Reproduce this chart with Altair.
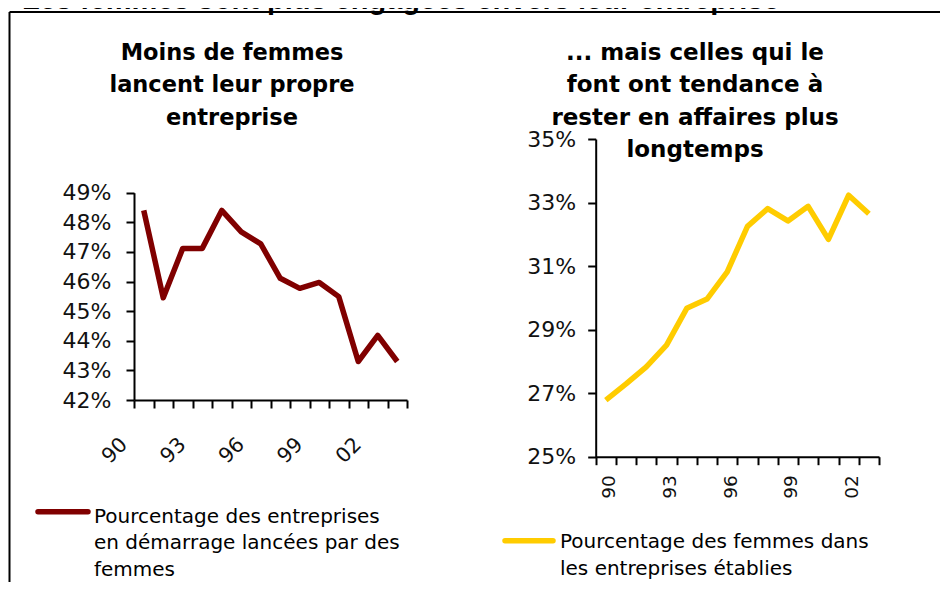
import json
import altair as alt
import pandas as pd

# ---------------- data ----------------
years = ["90", "91", "92", "93", "94", "95", "96", "97", "98", "99", "00", "01", "02", "03"]
startups_by_women = [48.4, 45.45, 47.12, 47.12, 48.4, 47.68, 47.27, 46.11, 45.77, 45.97, 45.49, 43.3, 44.18, 43.3]
women_in_established = [26.78, 27.29, 27.83, 28.51, 29.67, 29.96, 30.82, 32.25, 32.81, 32.42, 32.88, 31.84, 33.23, 32.65]
left_ticks = [42, 43, 44, 45, 46, 47, 48, 49]
right_ticks = [25, 27, 29, 31, 33, 35]
shown_year_labels = ["90", "93", "96", "99", "02"]

main_title = "Les femmes sont plus engagées envers leur entreprise"
left_title = ["Moins de femmes", "lancent leur propre", "entreprise"]
right_title = ["... mais celles qui le", "font ont tendance à", "rester en affaires plus", "longtemps"]
left_legend = ["Pourcentage des entreprises", "en démarrage lancées par des", "femmes"]
right_legend = ["Pourcentage des femmes dans", "les entreprises établies"]

W, H = 932, 574
FONT = "DejaVu Sans"
DARK_RED = "#800000"
YELLOW = "#FFCC00"

label_expr = f"indexof({json.dumps(shown_year_labels)}, datum.label) >= 0 ? datum.label : ''"

axis_common = dict(
    grid=False, domainColor="black", domainWidth=2, tickColor="black", tickWidth=2,
    tickSize=8, labelFont=FONT, labelColor="#111111", title=None, labelOverlap=False,
    labelBound=False,
)

df_left = pd.DataFrame({"annee": years, "pct": startups_by_women})
df_right = pd.DataFrame({"annee2": years, "pct2": women_in_established})
one = pd.DataFrame({"k": [0]})

left_line = alt.Chart(df_left).mark_line(color=DARK_RED, strokeWidth=5.5, strokeJoin="round").encode(
    x=alt.X("annee:O", sort=years, bandPosition=0.5,
            scale=alt.Scale(type="band", domain=years, range=[126, 399], paddingInner=0, paddingOuter=0),
            axis=alt.Axis(orient="bottom", offset=392 - H, tickBand="extent", labelExpr=label_expr,
                          labelAngle=315, labelOffset=-27, labelPadding=26, labelFontSize=20.5, **axis_common)),
    y=alt.Y("pct:Q", scale=alt.Scale(domain=[42, 49], range=[392, 184.7], nice=False, zero=False),
            axis=alt.Axis(orient="left", offset=-126, values=left_ticks, labelExpr="datum.value + '%'",
                          labelPadding=15, labelFontSize=22, **axis_common)),
)

right_line = alt.Chart(df_right).mark_line(color=YELLOW, strokeWidth=5.5, strokeJoin="round").encode(
    x=alt.X("annee2:O", sort=years, bandPosition=0.5,
            scale=alt.Scale(type="band", domain=years, range=[587.7, 871], paddingInner=0, paddingOuter=0),
            axis=alt.Axis(orient="bottom", offset=448.7 - H, tickBand="extent", labelExpr=label_expr,
                          labelAngle=270, labelOffset=3, labelPadding=10, labelFontSize=18.5, **axis_common)),
    y=alt.Y("pct2:Q", scale=alt.Scale(domain=[25, 35], range=[448.7, 131], nice=False, zero=False),
            axis=alt.Axis(orient="left", offset=-587.7, values=right_ticks, labelExpr="datum.value + '%'",
                          labelPadding=12, labelFontSize=22, **axis_common)),
)

def text_layer(lines, x, y, size, weight="normal", align="center", line_height=32.3, font=FONT):
    return alt.Chart(one).mark_text(
        text=lines, font=font, fontSize=size, fontWeight=weight, align=align,
        baseline="alphabetic", lineHeight=line_height, color="black",
    ).encode(x=alt.value(x), y=alt.value(y))

top_title = text_layer(main_title, 14, 1, 29, "bold", "left", 30, "Liberation Sans")
left_t = text_layer(left_title, 224, 52, 22.5, "bold")
right_t = text_layer(right_title, 687, 52, 23, "bold")
left_leg_text = text_layer(left_legend, 86, 514.5, 20, "normal", "left", 26.7)
right_leg_text = text_layer(right_legend, 552, 540.3, 20, "normal", "left", 26.7)

left_leg_sym = alt.Chart(one).mark_rule(color=DARK_RED, strokeWidth=5.5, strokeCap="round").encode(
    x=alt.value(30), x2=alt.value(80), y=alt.value(503.7))
right_leg_sym = alt.Chart(one).mark_rule(color=YELLOW, strokeWidth=5.5, strokeCap="round").encode(
    x=alt.value(497), x2=alt.value(545), y=alt.value(532.7))

border_top = alt.Chart(one).mark_rule(color="black", strokeWidth=2).encode(
    x=alt.value(1.5), x2=alt.value(W), y=alt.value(4))
border_left = alt.Chart(one).mark_rule(color="black", strokeWidth=2).encode(
    x=alt.value(1.5), y=alt.value(4), y2=alt.value(H))

chart = alt.layer(
    border_top, border_left, top_title, left_t, right_t,
    left_line, right_line, left_leg_sym, right_leg_sym, left_leg_text, right_leg_text,
).resolve_scale(x="independent", y="independent").resolve_axis(
    x="independent", y="independent"
).properties(
    width=W, height=H, autosize=alt.AutoSizeParams(type="none"), padding=0,
).configure_view(stroke=None)

chart.save("out.html", embed_options={"renderer": "svg", "actions": False})
